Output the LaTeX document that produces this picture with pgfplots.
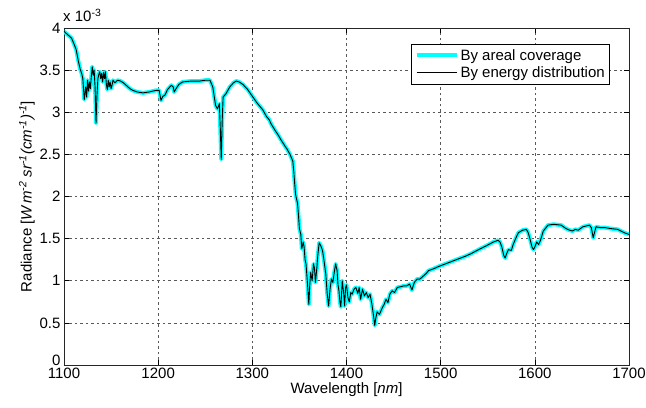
\documentclass[border=0pt]{standalone}
\usepackage{pgfplots}
\usepackage{pgfplotstable}
\usepackage{fontspec}
\setmainfont{Liberation Sans}
\pgfplotsset{compat=1.18}
\definecolor{mcyan}{RGB}{0,255,255}
\pgfplotstableread{
x y
1100 3.96
1103 3.93
1108 3.88
1111 3.80
1113 3.74
1115 3.62
1117 3.52
1119 3.45
1120 3.40
1121.5 3.15
1123 3.30
1124 3.18
1125 3.38
1126 3.25
1127 3.36
1128 3.28
1129 3.42
1130 3.54
1131 3.44
1132 3.50
1133 3.30
1134 2.87
1135 3.20
1136 3.40
1137 3.45
1138 3.48
1139 3.40
1140 3.46
1141 3.36
1142 3.47
1143 3.40
1144 3.48
1145 3.33
1146 3.27
1147 3.38
1148 3.30
1149 3.36
1150 3.28
1151 3.32
1152 3.38
1154 3.35
1157 3.38
1160 3.37
1163 3.35
1166 3.32
1170 3.28
1173 3.26
1178 3.24
1184 3.23
1190 3.24
1194 3.25
1198 3.26
1201 3.26
1202 3.20
1203 3.14
1205 3.19
1207 3.20
1210 3.27
1214 3.32
1216 3.30
1217 3.24
1219 3.28
1222 3.33
1226 3.36
1235 3.37
1244 3.37
1250 3.38
1255 3.38
1258 3.30
1261 3.08
1263 3.04
1265 3.10
1266 2.80
1267 2.44
1268 2.90
1269 3.18
1272 3.22
1276 3.30
1280 3.35
1283 3.37
1286 3.36
1290 3.33
1295 3.27
1300 3.19
1305 3.11
1308 3.07
1311 3.03
1315 2.95
1318 2.91
1320 2.86
1325 2.77
1328 2.72
1330 2.68
1334 2.61
1337 2.56
1340 2.50
1343 2.42
1344 2.30
1345 2.15
1346 2.02
1348 1.92
1349 1.78
1350 1.62
1351.5 1.55
1352.5 1.38
1354 1.46
1355 1.40
1356 1.25
1357 1.20
1358.5 0.98
1360 0.72
1361 0.95
1362 1.10
1363.5 1.00
1365 1.20
1366 1.15
1367 0.98
1368.5 1.15
1369.5 1.30
1371 1.45
1372.5 1.42
1374.5 1.36
1376 1.25
1378 1.08
1379.5 0.85
1381 0.70
1382.5 0.90
1384 1.02
1385.5 0.98
1387 1.10
1388.5 1.20
1390 1.12
1391 0.95
1392 0.88
1393 0.75
1394 0.69
1395.5 1.00
1397 0.85
1398 0.70
1399 0.92
1400 0.95
1401.5 0.80
1403 0.75
1404.5 0.86
1406 0.84
1408 0.90
1410 0.92
1412 0.85
1413.5 0.92
1415 0.78
1417 0.90
1419 0.82
1421 0.86
1423 0.80
1425 0.84
1427 0.72
1428.5 0.60
1430 0.47
1431 0.55
1432.5 0.63
1435 0.60
1438 0.68
1440 0.72
1442 0.78
1444 0.74
1446 0.84
1448.5 0.88
1451 0.86
1454 0.92
1458 0.93
1461 0.94
1464 0.94
1467 0.96
1469.5 0.89
1472 0.98
1475 1.02
1478 1.02
1482 1.06
1485 1.09
1487 1.12
1492 1.14
1498 1.17
1505 1.20
1512 1.23
1519 1.26
1526 1.29
1532 1.32
1537 1.35
1544 1.39
1551 1.43
1556 1.46
1561 1.48
1563 1.46
1565 1.40
1567 1.30
1568.5 1.27
1570 1.32
1572 1.37
1575 1.36
1577 1.43
1580 1.51
1582.5 1.57
1587 1.60
1591 1.61
1593 1.57
1595 1.49
1597 1.40
1598.5 1.37
1600 1.40
1602 1.46
1604 1.43
1606 1.48
1609 1.59
1614 1.66
1620 1.67
1628 1.66
1633 1.62
1637 1.60
1640 1.59
1643 1.61
1646 1.60
1651 1.64
1658 1.66
1660 1.63
1662 1.51
1664 1.60
1665 1.64
1670 1.63
1675 1.63
1680 1.62
1688 1.61
1695 1.57
1700 1.55
}\datatable
\begin{document}
\begin{tikzpicture}[font=\fontsize{15bp}{18bp}\selectfont]
\begin{axis}[
  name=ax,
  scale only axis,
  width=565bp, height=337bp,
  xmin=1100, xmax=1700, ymin=0, ymax=4,
  xtick={1100,1200,...,1700},
  ytick={0,0.5,...,4},
  yticklabels={\raisebox{10bp}{0},0.5,1,1.5,2,2.5,3,3.5,4},
  scaled ticks=false,
  /pgf/number format/assume math mode=true,
  /pgf/number format/1000 sep={},
  tick align=inside,
  major tick length=5bp,
  tick style={black, line width=0.6bp},
  axis line style={black!85, line width=0.7bp},
  grid=major,
  major grid style={black!65, line width=0.6bp, dash pattern=on 2.5bp off 3bp},
  xlabel={Wavelength [\textit{nm}]},
  xlabel style={yshift=3bp},
  ylabel={Radiance [\textit{W\,m\textsuperscript{-2} sr\textsuperscript{-1}(cm\textsuperscript{-1})\textsuperscript{-1}}]},
  ylabel style={yshift=-2bp},
  legend style={at={(0.9665,0.9527)}, anchor=north east, draw=black, line width=0.6bp,
    fill=white, inner sep=3bp, row sep=1bp,
    font=\fontsize{15bp}{18bp}\selectfont},
  legend cell align=left,
  legend image code/.code={\draw[#1] (0bp,0bp) -- (40bp,0bp);},
]
\addplot[color=mcyan, line width=4bp, line join=round] table[x=x,y=y] {\datatable};
\addlegendentry{By areal coverage}
\addplot[color=black, line width=0.9bp, line join=round] table[x=x,y=y] {\datatable};
\addlegendentry{By energy distribution}
\end{axis}
\node[anchor=base west, inner sep=0pt] at ([shift={(-1bp,6.5bp)}]ax.north west) {x 10\textsuperscript{-3}};
\pgfresetboundingbox
\path[use as bounding box] ([shift={(-64bp,-43bp)}]ax.south west) rectangle ([shift={(17bp,28bp)}]ax.north east);
\end{tikzpicture}
\end{document}
